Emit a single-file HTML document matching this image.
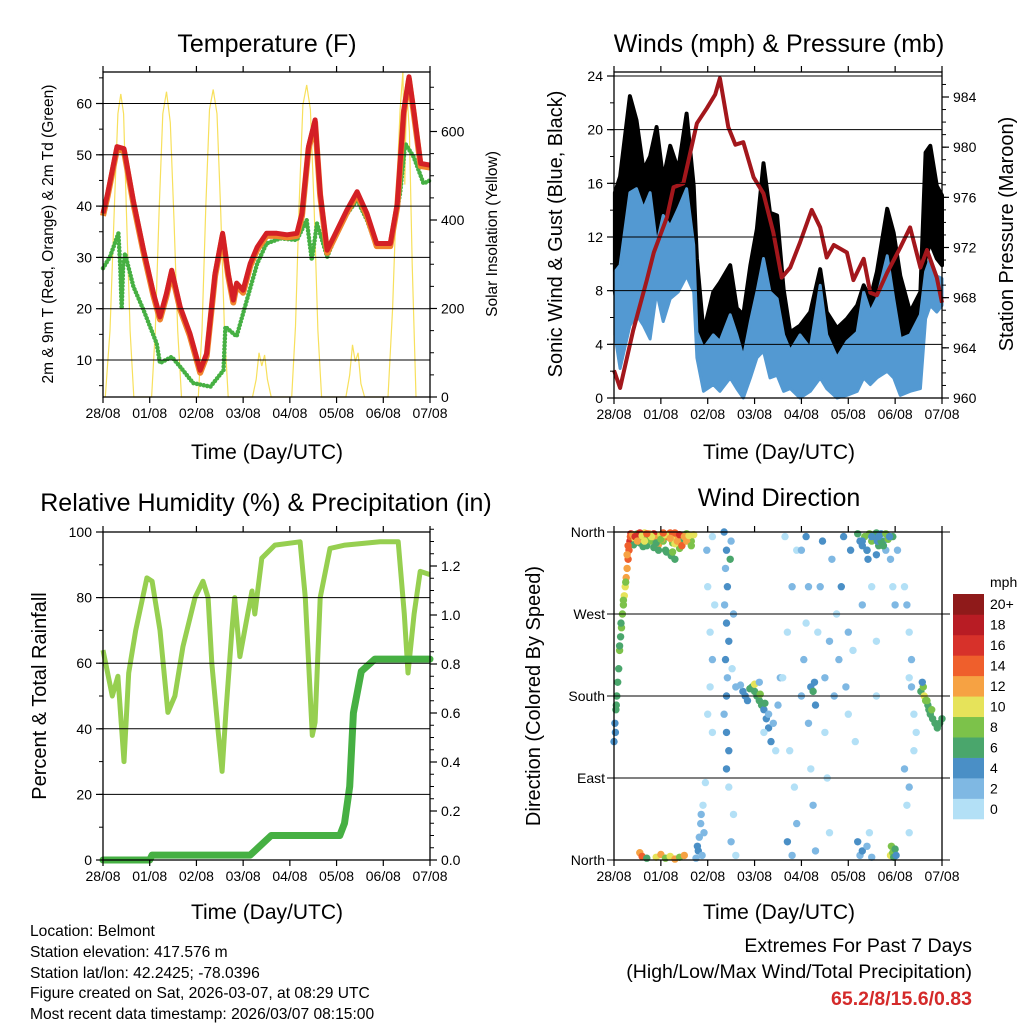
<!DOCTYPE html>
<html><head><meta charset="utf-8"><style>
body{margin:0;background:#fff;}
svg text{font-family:"Liberation Sans",Arial,sans-serif;fill:#000;}
</style></head><body>
<svg id="s" width="1024" height="1024" viewBox="0 0 1024 1024" xmlns="http://www.w3.org/2000/svg">
<rect width="1024" height="1024" fill="#fff"/>
<g id="g"></g>
<g font-size="25" text-anchor="middle">
<text x="267" y="52">Temperature (F)</text>
<text x="779" y="52">Winds (mph) &amp; Pressure (mb)</text>
<text x="266" y="511">Relative Humidity (%) &amp; Precipitation (in)</text>
<text x="779" y="506">Wind Direction</text>
</g>
<g font-size="21" text-anchor="middle">
<text x="267" y="459">Time (Day/UTC)</text>
<text x="779" y="459">Time (Day/UTC)</text>
<text x="267" y="919">Time (Day/UTC)</text>
<text x="779" y="919">Time (Day/UTC)</text>
<text transform="translate(53,234) rotate(-90)" font-size="15.5">2m &amp; 9m T (Red, Orange) &amp; 2m Td (Green)</text>
<text transform="translate(497,234) rotate(-90)" font-size="15.5">Solar Insolation (Yellow)</text>
<text transform="translate(562,234) rotate(-90)" font-size="20">Sonic Wind &amp; Gust (Blue, Black)</text>
<text transform="translate(1013,234) rotate(-90)" font-size="20">Station Pressure (Maroon)</text>
<text transform="translate(46,696) rotate(-90)" font-size="20">Percent &amp; Total Rainfall</text>
<text transform="translate(540,696) rotate(-90)" font-size="20">Direction (Colored By Speed)</text>
</g>
<g font-size="15.6">
<text x="30" y="936">Location: Belmont</text>
<text x="30" y="957">Station elevation: 417.576 m</text>
<text x="30" y="978">Station lat/lon: 42.2425; -78.0396</text>
<text x="30" y="998">Figure created on Sat, 2026-03-07, at 08:29 UTC</text>
<text x="30" y="1019">Most recent data timestamp: 2026/03/07 08:15:00</text>
</g>
<g font-size="19.5" text-anchor="end">
<text x="972" y="952">Extremes For Past 7 Days</text>
<text x="972" y="978">(High/Low/Max Wind/Total Precipitation)</text>
<text x="972" y="1005" font-weight="bold" style="fill:#d42a2a">65.2/8/15.6/0.83</text>
</g>
</svg>
<script>
const dayLabels=["28/08","01/08","02/08","03/08","04/08","05/08","06/08","07/08"];
// Temperature (F)
const tempT=[0,0.1,0.3,0.45,0.65,0.87,1.08,1.22,1.36,1.47,1.65,1.86,2.08,2.22,2.4,2.56,2.68,2.79,2.86,3.0,3.15,3.3,3.5,3.72,3.94,4.15,4.26,4.4,4.54,4.65,4.8,4.94,5.22,5.44,5.65,5.86,6.15,6.3,6.44,6.55,6.65,6.8,7.0];
const tempV=[38.6,42.5,51.6,51.2,41,31.4,23,18.4,23,27.5,20.4,15.2,8,11.3,26.9,34.7,26.9,21.7,25,23.6,28.8,32,34.7,34.7,34.4,34.7,38.6,51.6,56.8,42.5,31.4,34,39.2,42.8,38.6,32.7,32.7,40.5,58.7,65.2,58.7,48.3,48];
const dewT=[0,0.15,0.33,0.37,0.4,0.43,0.47,0.65,0.87,1.15,1.22,1.47,1.65,1.93,2.3,2.58,2.62,2.86,3.08,3.3,3.5,3.8,4.15,4.36,4.47,4.58,4.8,5.08,5.44,5.65,5.86,6.15,6.36,6.47,6.65,6.86,7.0];
const dewV=[27.9,30.1,34.7,28,20,28,30.8,24.3,19.7,13.2,9.4,10.6,8.7,5.5,4.8,8,16.5,14.6,21.7,28.8,32.7,33.7,33.4,37.3,29.5,36.6,30.1,36.6,41.2,37.3,32.1,32.1,42.5,52.2,49.6,44.4,45];
const solarT=[0.05,0.15,0.25,0.32,0.38,0.44,0.5,0.58,0.66,1.04,1.12,1.2,1.28,1.36,1.44,1.52,1.6,1.68,2.04,2.12,2.2,2.28,2.36,2.44,2.52,2.6,2.68,3.2,3.28,3.34,3.4,3.46,3.52,3.6,4.04,4.12,4.2,4.28,4.36,4.44,4.52,4.6,4.68,5.2,5.28,5.34,5.4,5.46,5.52,5.6,6.1,6.2,6.28,6.36,6.42,6.46,6.5,6.56,6.62,6.7];
const solarV=[0,150,450,640,685,640,420,150,0,0,150,420,640,690,620,400,150,0,0,150,430,650,695,640,420,150,0,0,40,100,70,95,40,0,0,160,440,660,705,650,430,150,0,0,50,118,80,100,30,0,0,200,450,650,735,480,700,600,300,0];
// Winds (mph) & pressure (mb)
const bandT=[0.02,0.13,0.34,0.48,0.63,0.77,0.91,1.05,1.2,1.37,1.55,1.7,1.77,1.91,2.12,2.26,2.48,2.62,2.76,2.91,3.05,3.19,3.33,3.48,3.62,3.76,3.97,4.19,4.4,4.54,4.76,4.97,5.19,5.33,5.47,5.61,5.83,5.97,6.11,6.32,6.54,6.65,6.75,6.89,7.0];
const windHi=[9.4,9.9,15.3,15.6,14.1,15.3,11.4,13.6,12.8,14.1,15.6,11.4,4.9,3.7,4.7,4.2,6.2,4.7,3.0,5.7,7.9,10.4,7.9,7.4,4.7,3.5,4.7,3.7,8.4,4.7,3.0,4.2,4.9,7.9,6.4,7.4,10.6,7.4,4.4,4.7,6.2,9.4,10.4,9.1,8.9];
const windLo=[4.7,2.2,5.4,6.2,5.4,4.4,7.9,5.7,7.4,7.9,9.1,7.9,3.0,0.5,1.0,0.5,1.5,0.7,0,1.5,3.0,3.5,1.5,1.7,0.5,0.7,0,0.5,1.5,0.7,0,0.2,0.5,1.5,1.0,1.5,2.0,1.5,0.2,0.5,0.7,5.9,6.9,6.4,6.9];
const gustHi=[15.3,16.5,22.5,20.7,17,18,20.2,16.3,18.8,17,21.2,15.8,10.4,4.9,7.9,8.6,9.9,6.7,6.2,9.9,12.6,17.5,13.8,13.6,8.1,4.9,5.4,6.4,9.6,6.4,5.2,5.9,6.9,8.4,7.4,9.4,14.1,12.3,9.1,6.4,7.9,18.3,18.8,15.8,15.1];
const gustLo=[7.9,5.4,10.4,12.8,9.1,10.4,11.6,10.4,11.6,12.8,14.1,11.6,4.2,1.7,2.5,3.0,3.5,1.7,0.5,4.0,5.4,7.9,5.4,5.9,3.0,2.2,1.5,2.0,4.2,2.2,1.2,1.7,2.2,4.7,3.0,4.2,5.4,4.2,1.7,2.2,3.0,10.4,11.6,10.4,9.9];
const presT=[0,0.13,0.41,0.7,0.85,1.13,1.27,1.48,1.77,1.98,2.16,2.26,2.44,2.59,2.76,2.98,3.19,3.4,3.58,3.76,3.97,4.22,4.4,4.54,4.69,4.97,5.11,5.33,5.47,5.61,5.83,6.11,6.32,6.54,6.68,6.89,7.0];
const presV=[962.2,960.8,965.4,969.4,971.6,974.4,976.8,977.1,981.9,983.1,984.2,985.5,981.6,980.2,980.4,977.6,976.3,973.2,969.6,970.4,972.4,975,973.6,971.2,972.2,971.6,969.4,971.1,968.4,968.2,970,972,973.6,970.4,971.8,969.6,967.6];
// RH (%) & precipitation (in)
const rhT=[0,0.2,0.32,0.45,0.55,0.7,0.94,1.05,1.22,1.39,1.54,1.71,1.97,2.14,2.25,2.33,2.46,2.55,2.63,2.76,2.82,2.93,3.06,3.19,3.25,3.4,3.68,4.22,4.33,4.48,4.54,4.65,4.86,5.18,5.93,6.32,6.45,6.53,6.66,6.79,7.0];
const rhV=[64,50,56,30,57,70,86,85,70,45,50,65,80,85,80,60,40,27,45,70,80,62,72,82,75,92,96,97,80,38,42,80,95,96,97,97,75,57,75,88,87];
const prT=[0,1.0,1.05,3.15,3.6,5.07,5.17,5.28,5.36,5.53,5.82,7.0];
const prV=[0,0,0.02,0.02,0.1,0.1,0.15,0.3,0.6,0.77,0.82,0.82];
// Wind direction scatter: time (days), direction (deg), speed (mph)
const dirT=[0.0,0.02,0.04,0.06,0.08,0.1,0.12,0.14,0.16,0.18,0.2,0.22,0.24,0.26,0.28,0.3,0.32,0.34,0.36,
0.35,0.4,0.45,0.5,0.55,0.6,0.65,0.7,0.75,0.8,0.85,0.9,0.95,1.0,1.05,1.1,1.15,1.2,1.25,1.3,1.35,1.4,1.45,1.5,1.55,1.6,1.65,1.7,0.42,0.62,1.12,1.22,0.55,0.75,1.3,1.02,1.4,
0.45,0.5,0.6,0.7,0.8,0.9,1.0,1.1,1.2,1.3,1.35,1.4,1.45,1.5,1.55,1.6,1.65,1.25,1.3,0.95,0.85,0.65,0.7,1.05,
0.15,0.2,0.25,0.12,0.05,0.03,0.28,0.3,
0.55,0.6,0.7,0.9,1.0,1.1,1.2,1.3,1.4,1.5,
1.75,1.8,1.82,1.85,1.9,1.95,1.78,1.88,1.92,1.86,
2.0,2.05,2.1,2.05,2.0,2.1,1.98,2.1,2.15,
2.35,2.4,2.38,2.42,2.36,2.4,2.45,2.38,2.42,2.4,2.35,2.4,2.45,2.4,2.48,2.5,2.55,2.52,2.6,2.55,2.5,2.6,2.45,
2.75,2.8,2.9,3.0,3.05,3.1,3.15,3.2,3.25,3.3,3.35,2.85,2.95,3.0,3.12,3.22,2.7,3.3,3.1,3.2,3.4,3.5,3.45,3.55,
3.6,3.7,3.8,3.9,3.65,3.75,3.85,3.7,3.8,3.9,4.0,4.05,4.1,4.15,4.0,4.1,4.15,4.2,4.25,4.28,4.3,4.2,4.25,4.3,4.35,4.4,4.45,4.5,4.5,4.55,4.6,4.6,4.65,4.7,4.75,4.8,4.85,4.9,4.95,5.0,5.0,5.05,
5.2,5.25,5.3,5.35,5.4,5.45,5.5,5.55,5.6,5.65,5.7,5.75,5.8,5.85,5.9,5.95,6.0,5.42,5.5,5.3,5.1,5.15,5.2,5.25,5.3,5.4,5.5,5.45,5.6,5.6,5.62,
5.3,5.4,5.5,5.6,5.7,5.8,5.85,5.95,5.75,5.65,
5.9,5.92,5.95,5.97,6.0,6.02,5.88,6.05,
6.2,6.25,6.3,6.35,6.3,6.35,6.4,6.45,6.4,6.3,6.25,6.2,6.3,
6.55,6.6,6.62,6.65,6.7,6.72,6.75,6.8,6.85,6.9,6.95,7.0,6.68,6.78,6.58];
const dirV=[130,150,165,180,195,210,230,245,255,270,280,290,300,310,320,330,340,350,358,
355,357,352,358,348,354,359,345,356,350,358,353,346,357,350,340,355,359,348,354,357,350,356,352,358,355,350,357,346,344,338,334,359,358,359,352,342,
355,350,356,352,355,348,352,357,353,347,350,357,345,355,350,356,345,338,330,340,343,350,358,359,
260,285,305,235,170,140,335,345,
8,4,2,3,6,2,4,1,3,5,
2,10,25,40,60,85,15,5,30,50,
300,250,220,190,160,140,340,355,280,
360,340,320,300,280,260,240,220,200,180,160,140,120,100,330,350,270,210,190,50,20,5,80,
185,180,188,185,180,175,170,165,155,145,130,175,190,193,182,172,192,160,195,140,150,170,120,200,
200,250,300,340,355,120,80,20,5,40,180,220,260,300,340,355,150,190,185,195,170,100,60,10,250,300,350,200,140,90,30,240,330,180,270,220,300,355,190,160,250,340,
358,350,345,355,340,358,350,355,359,345,358,350,340,355,330,300,280,330,300,280,230,130,20,5,10,15,3,30,240,180,350,
350,340,355,335,350,358,352,355,345,355,
5,15,8,3,12,5,355,340,
300,280,250,220,200,190,160,140,120,80,60,100,30,
185,190,180,175,170,165,160,155,150,145,150,155,175,165,195];
const dirS=[5,4,6,7,6,7,8,7,8,9,8,10,11,12,13,14,15,16,17,
14,12,10,9,7,8,10,6,11,9,16,13,12,10,8,7,15,14,9,11,13,8,12,7,9,6,8,10,7,6,6,7,16,13,15,12,9,
16,12,11,9,10,7,8,11,12,11,13,16,14,13,12,10,9,8,7,6,7,10,15,14,
7,9,9,6,6,5,12,14,
13,14,6,11,12,9,10,13,9,12,
3,4,3,2,1,1,4,3,2,2,
1,1,2,1,1,0,2,1,1,
4,4,3,4,3,4,5,4,3,4,3,4,4,4,7,2,2,1,2,1,2,1,1,
4,5,6,7,6,7,6,5,4,4,4,4,7,10,8,7,3,3,2,1,2,2,1,3,
1,1,2,1,0,1,1,4,3,2,3,3,1,2,3,4,2,4,7,5,4,1,2,2,1,2,4,2,1,1,1,2,2,3,1,2,4,5,3,1,2,5,
6,5,4,8,7,9,8,6,7,6,5,4,2,5,2,1,2,4,1,2,1,1,4,3,4,2,2,1,1,1,5,
5,5,4,5,7,8,9,7,6,5,
10,9,8,7,6,5,4,2,
1,2,1,2,1,2,1,1,1,2,1,2,1,
7,8,10,8,7,6,7,6,7,6,6,7,9,8,5];
const speedColors=["#b3e0f6","#7fb8e3","#4a8fc6","#4aa66c","#7cc24a","#e6e35a","#f6a243","#ef5f2c","#d7312a","#b81c24","#8f1a1a"];
const speedLabels=["0","2","4","6","8","10","12","14","16","18","20+"];

const NS="http://www.w3.org/2000/svg";
const G=document.getElementById('g');
function mk(tag,attrs,parent){const e=document.createElementNS(NS,tag);for(const k in attrs)e.setAttribute(k,attrs[k]);(parent||G).appendChild(e);return e;}
function grp(name){const g=mk('g',{});


return g;}
function xScale(p){return t=>p.x0+t/7*(p.x1-p.x0);}
function lin(v0,y0,v1,y1){return v=>y0+(v-v0)*(y1-y0)/(v1-v0);}
function pathOf(T,V,xs,ys){return T.map((t,i)=>(i?'L':'M')+xs(t).toFixed(1)+','+ys(V[i]).toFixed(1)).join('');}

function frame(p,name){
  const g=grp(name+'-axes');
  const xs=xScale(p);
  for(let d=0;d<=7;d++){
    const x=xs(d);
    mk('line',{x1:x,x2:x,y1:p.y1,y2:p.y1+6,stroke:'#000','stroke-width':1.2},g);
    mk('line',{x1:x,x2:x,y1:p.y0,y2:p.y0-6,stroke:'#000','stroke-width':1.2},g);
    const t=mk('text',{x:x,y:p.y1+21,'font-size':14,'text-anchor':'middle'},g);t.textContent=dayLabels[d];
    
    
  }
  mk('rect',{x:p.x0,y:p.y0,width:p.x1-p.x0,height:p.y1-p.y0,fill:'none',stroke:'#000','stroke-width':1.3},g);
}
function yAxis(p,side,scale,vals,minors,labelFmt,name,grid){
  const g=grp(name);
  const x=side==='l'?p.x0:p.x1, dir=side==='l'?-1:1;
  minors.forEach(v=>{const y=scale(v);mk('line',{x1:x,x2:x+dir*4,y1:y,y2:y,stroke:'#000','stroke-width':1},g);});
  vals.forEach(v=>{const y=scale(v);
    mk('line',{x1:x,x2:x+dir*7,y1:y,y2:y,stroke:'#000','stroke-width':1.2},g);
    if(grid) mk('line',{x1:p.x0,x2:p.x1,y1:y,y2:y,stroke:'#000','stroke-width':1},g);
    const t=mk('text',{x:x+dir*11,y:y+5,'font-size':14,'text-anchor':side==='l'?'end':'start'},g);t.textContent=labelFmt(v);
    
    
  });
}
function range(a,b,s){const r=[];for(let v=a;v<=b+1e-9;v+=s)r.push(+v.toFixed(3));return r;}
function bandPts(T,hi,lo,xs,ys){return T.map((t,i)=>xs(t).toFixed(1)+','+ys(hi[i]).toFixed(1)).concat(T.map((t,i)=>xs(t).toFixed(1)+','+ys(lo[i]).toFixed(1)).reverse()).join(' ');}

// Panel 1 Temperature
const P1={x0:103,x1:430,y0:72,y1:397};
{const xs=xScale(P1);const ty=lin(10,360,60,103.5);const sy=lin(0,397,600,131.5);
 const g=grp('temperature-plot');
 yAxis(P1,'l',ty,range(10,60,10),range(5,65,5),v=>v,'temp-left-axis',true);
 yAxis(P1,'r',sy,range(0,600,200),range(0,700,50),v=>v,'solar-right-axis',false);
 const s=mk('path',{d:pathOf(solarT,solarV,xs,sy),fill:'none',stroke:'#f7e05c','stroke-width':1.2},g);
 
 const d=mk('path',{d:pathOf(dewT,dewV,xs,ty),fill:'none',stroke:'#46b043','stroke-width':4.5,'stroke-dasharray':'0 3.5','stroke-linecap':'round','stroke-linejoin':'round'},g);
 
 const o=mk('path',{d:pathOf(tempT,tempV.map(v=>v-0.5),xs,ty),fill:'none',stroke:'#f0832c','stroke-width':6,'stroke-linejoin':'round'},g);
 
 const r=mk('path',{d:pathOf(tempT,tempV,xs,ty),fill:'none',stroke:'#d42025','stroke-width':5,'stroke-linejoin':'round'},g);
 
 frame(P1,'temperature');
}
// Panel 2 Winds
const P2={x0:614,x1:942,y0:72,y1:398};
{const xs=xScale(P2);const wy=lin(0,398,24,76);const py=lin(960,398,984,97);
 const g=grp('winds-plot');
 yAxis(P2,'l',wy,range(0,24,4),range(0,24,2),v=>v,'wind-left-axis',true);
 yAxis(P2,'r',py,range(960,984,4),range(960,985,1),v=>v,'pressure-right-axis',false);
 const gb=mk('polygon',{points:bandPts(bandT,gustHi,gustLo,xs,wy),fill:'#000',stroke:'#000','stroke-width':4,'stroke-linejoin':'round'},g);
 
 const wb=mk('polygon',{points:bandPts(bandT,windHi,windLo,xs,wy),fill:'#5399d2',stroke:'#5399d2','stroke-width':3,'stroke-linejoin':'round'},g);
 
 const pl=mk('path',{d:pathOf(presT,presV,xs,py),fill:'none',stroke:'#a3171c','stroke-width':4,'stroke-linejoin':'round'},g);
 
 frame(P2,'winds');
}
// Panel 3 RH
const P3={x0:103,x1:430,y0:532,y1:860};
{const xs=xScale(P3);const ry=lin(0,860,100,532);const py=lin(0,860,1.2,566);
 const g=grp('humidity-plot');
 yAxis(P3,'l',ry,range(0,100,20),range(0,100,10),v=>v,'rh-left-axis',true);
 yAxis(P3,'r',py,range(0,1.2,0.2),range(0,1.35,0.05),v=>v.toFixed(1),'precip-right-axis',false);
 const r=mk('path',{d:pathOf(rhT,rhV,xs,ry),fill:'none',stroke:'#96cf50','stroke-width':5,'stroke-linejoin':'round'},g);
 
 const p=mk('path',{d:pathOf(prT,prV,xs,py),fill:'none',stroke:'#46b043','stroke-width':7,'stroke-linejoin':'round','stroke-linecap':'round'},g);
 
 frame(P3,'humidity');
}
// Panel 4 Wind direction
const P4={x0:614,x1:942,y0:532,y1:860};
{const xs=xScale(P4);const dy=lin(0,860,360,532);
 const g=grp('direction-plot');
 const names=['North','East','South','West','North'];
 const ga=grp('dir-left-axis');
 [0,90,180,270,360].forEach((v,i)=>{const y=dy(v);
   mk('line',{x1:P4.x0,x2:P4.x1+8,y1:y,y2:y,stroke:'#000','stroke-width':1},ga);
   mk('line',{x1:P4.x0-7,x2:P4.x0,y1:y,y2:y,stroke:'#000','stroke-width':1},ga);
   const t=mk('text',{x:P4.x0-9,y:y+5,'font-size':14,'text-anchor':'end'},ga);t.textContent=names[i];
   });
 dirT.forEach((t,i)=>{const b=Math.min(10,Math.floor(dirS[i]/2));
   const c=mk('circle',{cx:xs(t).toFixed(1),cy:dy(dirV[i]).toFixed(1),r:3.7,fill:speedColors[b]},g);
   
   });
 frame(P4,'direction');
 const cb=grp('speed-colorbar');
 const lt=mk('text',{x:990,y:587,'font-size':14},cb);lt.textContent='mph';
 
 const bh=225/11;
 speedColors.forEach((c,i)=>{const y=594+(10-i)*bh;
   const r=mk('rect',{x:953,y:y,width:31,height:bh+0.3,fill:c},cb);
   
   const t=mk('text',{x:990,y:y+bh/2+5,'font-size':14},cb);t.textContent=speedLabels[i];
   });
}
</script>
</body></html>
